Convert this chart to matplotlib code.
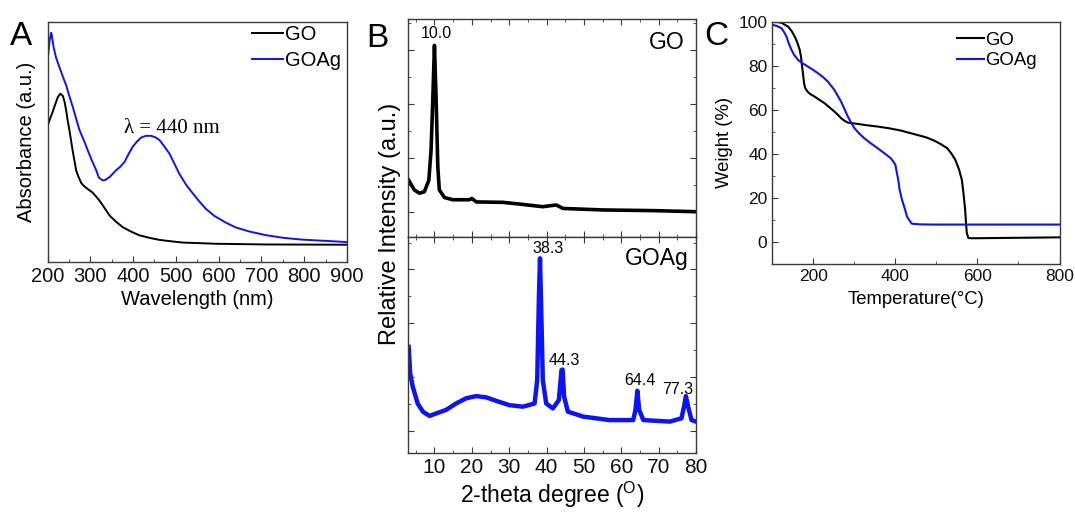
import matplotlib
matplotlib.use("Agg")
import matplotlib.pyplot as plt
from matplotlib.ticker import MultipleLocator, FixedLocator, NullLocator

plt.rcParams['font.family'] = ['Liberation Sans', 'DejaVu Sans']
plt.rcParams['mathtext.fontset'] = 'custom'
plt.rcParams['mathtext.rm'] = 'Liberation Sans'

# ---------------- Panel A : UV-vis ----------------
uv_go_x = [200, 205, 212, 218, 224, 230, 236, 240, 243.6, 247, 251, 255, 259, 263, 267, 272, 279,
           285, 292, 298, 305, 313, 321, 330, 345, 360, 376, 395, 415, 440, 462, 490, 516, 594,
           711, 900]
uv_go_y = [0.564, 0.59, 0.624, 0.655, 0.685, 0.70, 0.69, 0.665, 0.63, 0.59, 0.55, 0.505, 0.46,
           0.42, 0.38, 0.355, 0.327, 0.315, 0.305, 0.297, 0.288, 0.272, 0.255, 0.232, 0.192,
           0.166, 0.143, 0.125, 0.109, 0.098, 0.09, 0.084, 0.079, 0.074, 0.071, 0.070]
uv_goag_x = [200, 202, 205, 208.5, 210, 214, 220, 228, 236, 243.6, 251, 259, 267, 275, 285, 294,
             304, 314, 320, 329, 335, 345, 352, 360, 370, 380, 390, 399, 409, 419, 430, 442, 452,
             462, 473, 485, 496, 508, 524, 540, 555, 570, 590, 617, 640, 672, 710, 750, 790, 828,
             860, 900]
uv_goag_y = [0.833, 0.87, 0.923, 0.954, 0.945, 0.896, 0.85, 0.81, 0.77, 0.735, 0.69, 0.645,
             0.595, 0.547, 0.505, 0.464, 0.42, 0.38, 0.35, 0.338, 0.34, 0.352, 0.365, 0.38,
             0.395, 0.415, 0.45, 0.478, 0.5, 0.517, 0.524, 0.524, 0.518, 0.506, 0.48, 0.45, 0.41,
             0.366, 0.32, 0.283, 0.25, 0.22, 0.19, 0.162, 0.142, 0.125, 0.11, 0.099, 0.092,
             0.088, 0.085, 0.081]

# ---------------- Panel B : XRD ----------------
xrd_go_x = [3.1, 4.6, 6.0, 7.3, 8.5, 9.1, 9.55, 10.0, 10.45, 10.9, 11.3, 12.7, 14.9, 19.4, 20.0,
            21.2, 28.3, 32.8, 39.0, 42.6, 44.4, 55.1, 68.5, 80.0]
xrd_go_y = [26, 21.5, 20, 20.7, 26, 40, 63, 88, 63, 32, 21.5, 18, 17, 17, 17.6, 16, 15.8, 15,
            13.8, 14.6, 13, 12.3, 12, 11.5]
xrd_goag_x = [3.1, 3.5, 4.2, 5.5, 6.9, 8.7, 10.5, 13.1, 15.8, 18.5, 21.2, 23.9, 26.5, 30.1, 33.7,
              36.8, 37.5, 37.96, 38.25, 38.5, 39.0, 39.9, 41.7, 43.3, 44.0, 44.3, 44.7, 45.7,
              49.8, 56.9, 63.2, 63.8, 64.3, 64.8, 65.9, 73.0, 76.1, 76.8, 77.3, 77.9, 78.8, 80.0]
xrd_goag_y = [49, 36.7, 30.5, 22.8, 19, 17, 18.2, 19.8, 22.8, 25.2, 26.2, 25.6, 24, 22, 21.3,
              22.8, 33.6, 72, 90, 72, 33.6, 22.8, 20.5, 24.4, 38.3, 38.5, 26, 19, 16.7, 15.1,
              15.1, 19.8, 28.7, 19.8, 15.1, 14.4, 15.9, 21.3, 26.2, 21.3, 15.1, 14.4]
go_peak_labels = ["10.0"]
goag_peak_labels = ["38.3", "44.3", "64.4", "77.3"]

# ---------------- Panel C : TGA ----------------
tga_go_x = [102.5, 112, 122.6, 138.8, 147, 154.8, 161, 166.9, 170, 172.7, 175, 177.5, 180, 185.5,
            192, 203.1, 215, 227.3, 240, 251.5, 260, 267.7, 276, 284, 295, 308, 330, 356.5, 385,
            413, 453, 475, 493.5, 510, 526, 536, 546, 555, 562, 566, 570, 572, 574, 578, 584,
            598, 800]
tga_go_y = [100, 99.9, 99.5, 97.7, 95.8, 93.2, 90.5, 87.2, 84, 79.6, 76, 72, 70, 68.3, 67.2, 66,
            64.5, 63, 61, 59.2, 57.7, 56.2, 55, 54.2, 53.9, 53.6, 53, 52.4, 51.6, 50.6, 48.6,
            47.5, 46.1, 44.5, 42.6, 40.3, 37.3, 33, 28.2, 22, 14.7, 9, 4.1, 1.8, 1.7, 1.7, 2.1]
tga_goag_x = [102.5, 112, 122.6, 128, 134.7, 140, 146.8, 153, 163, 175, 187, 199, 211.3, 224,
              235.5, 243, 251.5, 259, 267.7, 276, 284, 292, 300, 312, 324, 340, 356.5, 373, 389,
              395, 400, 403, 407, 410, 416, 424, 428, 436, 440, 460, 493.5, 800]
tga_goag_y = [98.5, 98, 97, 95.5, 93.2, 90.2, 87.2, 85, 82.6, 81, 79.6, 78.2, 76.6, 74.8, 72.8,
              71, 69, 66.5, 63.7, 60.3, 57, 54.2, 51.7, 49.2, 47.1, 44.8, 42.6, 40.3, 38, 36.5,
              35, 32, 28.2, 24, 19.2, 14.5, 11.6, 9.3, 8.3, 8.0, 7.9, 7.9]

BLUE = '#0a14f5'
SPINE = '#3a3a3a'

fig = plt.figure(figsize=(10.75, 5.16), dpi=100)
W, H = 1075.0, 516.0


def box(l, t, r, b):
    return [l / W, 1 - b / H, (r - l) / W, (b - t) / H]


def style(ax):
    for s in ax.spines.values():
        s.set_color(SPINE)
        s.set_linewidth(1.0)


# ---- A ----
axA = fig.add_axes(box(47.5, 21.7, 347, 261.5))
style(axA)
axA.plot(uv_go_x, uv_go_y, color='black', lw=1.4, label='GO')
axA.plot(uv_goag_x, uv_goag_y, color=BLUE, lw=1.4, label='GOAg')
axA.set_xlim(200, 900)
axA.set_ylim(0, 1)
axA.xaxis.set_major_locator(MultipleLocator(100))
axA.xaxis.set_minor_locator(MultipleLocator(50))
axA.yaxis.set_major_locator(NullLocator())
axA.tick_params(axis='x', which='both', direction='in', labelsize=14.5, pad=4, colors=SPINE,
                labelcolor='#111111')
axA.tick_params(axis='x', which='major', length=4)
axA.tick_params(axis='x', which='minor', length=2)
axA.set_xlabel('Wavelength (nm)', fontsize=14.5, labelpad=3)
axA.set_ylabel('Absorbance (a.u.)', fontsize=14.5, labelpad=8)
axA.text(490, 0.556, 'λ = 440 nm', family='Liberation Serif', fontsize=15,
         ha='center', va='center')
axA.legend(loc='upper left', bbox_to_anchor=(0.684, 0.985), frameon=False, fontsize=14.5,
           borderpad=0, handlelength=1.5, handletextpad=0.1, labelspacing=0.35,
           borderaxespad=0)

# ---- B ----
axB1 = fig.add_axes(box(408.3, 19.3, 696, 236.7))
axB2 = fig.add_axes(box(408.3, 236.7, 696, 452.7))
for ax in (axB1, axB2):
    style(ax)
    ax.set_xlim(3, 80)
    ax.set_ylim(0, 100)
    ax.xaxis.set_major_locator(MultipleLocator(10))
    ax.xaxis.set_minor_locator(MultipleLocator(5))
    ax.tick_params(axis='both', which='both', direction='in', top=True, right=True,
                   colors=SPINE, labelcolor='#111111', labelsize=15)
    ax.tick_params(axis='both', which='major', length=4)
    ax.tick_params(axis='both', which='minor', length=2)
    ax.tick_params(axis='y', labelleft=False)

axB1.yaxis.set_major_locator(FixedLocator([11.5, 36.3, 61.2, 86.0]))
axB1.yaxis.set_minor_locator(FixedLocator([23.9, 48.8, 73.6, 98.4]))
axB2.yaxis.set_major_locator(FixedLocator([10.2, 35.1, 60.0, 84.9]))
axB2.yaxis.set_minor_locator(FixedLocator([22.6, 47.5, 72.4, 97.3]))
axB1.tick_params(axis='x', labelbottom=False)

axB1.plot(xrd_go_x, xrd_go_y, color='black', lw=2.6, solid_joinstyle='round')
axB2.plot(xrd_goag_x, xrd_goag_y, color=BLUE, lw=3.2, solid_joinstyle='round')

axB1.text(10.45, 93.3, go_peak_labels[0], fontsize=11.5, ha='center', va='center')
axB1.text(0.962, 0.894, 'GO', transform=axB1.transAxes, fontsize=16.5, ha='right', va='center')
axB2.text(0.973, 0.90, 'GOAg', transform=axB2.transAxes, fontsize=16.5, ha='right', va='center')
goag_label_pos = [(40.3, 94.5), (44.85, 42.5), (65.1, 33.6), (75.2, 29.3)]
for lab, (px, py) in zip(goag_peak_labels, goag_label_pos):
    axB2.text(px, py, lab, fontsize=11.5, ha='center', va='center')

axB2.set_xlabel(r'2-theta degree ($\mathregular{^{O}}$)', fontsize=16.5, labelpad=2)
fig.text(390 / W, 1 - 224 / H, 'Relative Intensity (a.u.)', rotation=90, fontsize=17,
         ha='center', va='center')

# ---- C ----
axC = fig.add_axes(box(772.3, 21.7, 1059.5, 264.0))
style(axC)
axC.plot(tga_go_x, tga_go_y, color='black', lw=1.5, label='GO')
axC.plot(tga_goag_x, tga_goag_y, color=BLUE, lw=1.5, label='GOAg')
axC.set_xlim(100, 800)
axC.set_ylim(-10, 100)
axC.xaxis.set_major_locator(MultipleLocator(200))
axC.xaxis.set_minor_locator(MultipleLocator(100))
axC.yaxis.set_major_locator(MultipleLocator(20))
axC.yaxis.set_minor_locator(MultipleLocator(10))
axC.tick_params(axis='both', which='both', direction='in', colors=SPINE, labelcolor='#111111',
                labelsize=12.5)
axC.tick_params(axis='both', which='major', length=4)
axC.tick_params(axis='both', which='minor', length=2)
axC.set_xlabel('Temperature(°C)', fontsize=13.3, labelpad=5)
axC.set_ylabel('Weight (%)', fontsize=13.3, labelpad=4)
axC.legend(loc='upper left', bbox_to_anchor=(0.642, 0.958), frameon=False, fontsize=13.4,
           borderpad=0, handlelength=1.45, handletextpad=0.1, labelspacing=0.17,
           borderaxespad=0)

# panel letters
fig.text(10 / W, 1 - 45 / H, 'A', fontsize=24, va='baseline', ha='left')
fig.text(366 / W, 1 - 47 / H, 'B', fontsize=24, va='baseline', ha='left')
fig.text(704 / W, 1 - 45 / H, 'C', fontsize=24, va='baseline', ha='left')

fig.savefig('out.png', dpi=100)
